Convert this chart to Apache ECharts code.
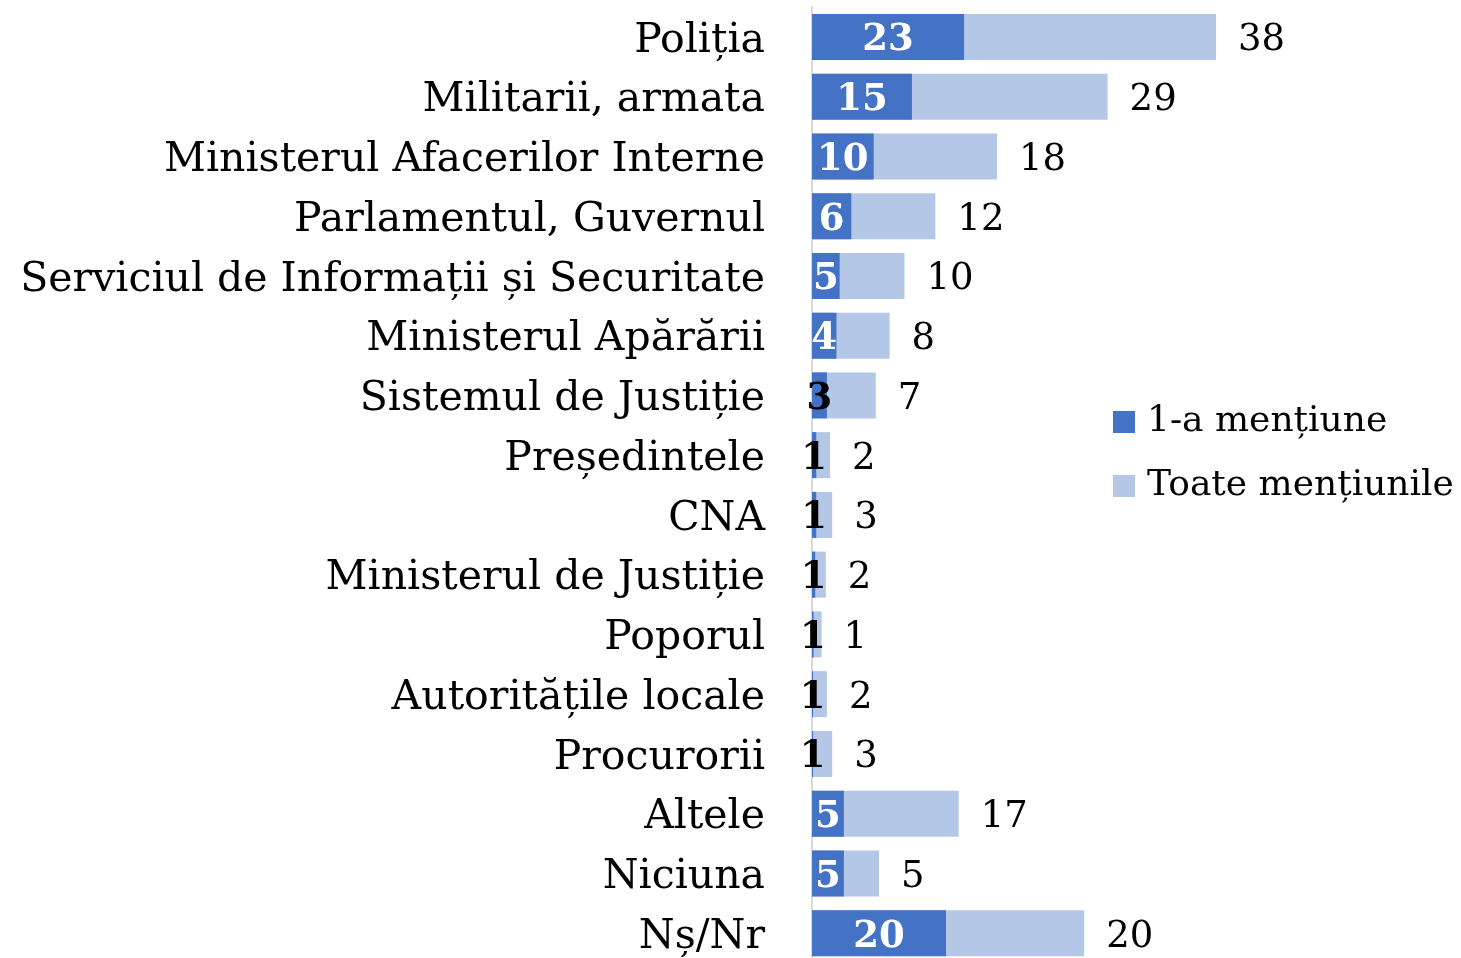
<!DOCTYPE html>
<html>
<head>
<meta charset="utf-8">
<script src="https://cdn.jsdelivr.net/npm/echarts@6/dist/echarts.min.js"></script>
<style>
  html, body { margin: 0; padding: 0; background: #fff; }
  #chart { width: 1461px; height: 958px; }
</style>
</head>
<body>
<div id="chart"></div>
<script>
const categories = [
  'Poliția', 'Militarii, armata', 'Ministerul Afacerilor Interne', 'Parlamentul, Guvernul',
  'Serviciul de Informații și Securitate', 'Ministerul Apărării', 'Sistemul de Justiție',
  'Președintele', 'CNA', 'Ministerul de Justiție', 'Poporul', 'Autoritățile locale',
  'Procurorii', 'Altele', 'Niciuna', 'Nș/Nr'
]
// values printed on the bars
const firstLabels = [23, 15, 10, 6, 5, 4, 3, 1, 1, 1, 1, 1, 1, 5, 5, 20]
const allLabels = [38, 29, 18, 12, 10, 8, 7, 2, 3, 2, 1, 2, 3, 17, 5, 20]
// bar lengths as drawn in the picture (same unit as Poliția = 38)
const firstBar = [14.3, 9.4, 5.8, 3.7, 2.6, 2.3, 1.4, 0.4, 0.4, 0.3, 0.15, 0.1, 0.1, 3.0, 3.0, 12.6]
const allBar = [38, 27.8, 17.4, 11.6, 8.7, 7.3, 6.0, 1.7, 1.9, 1.3, 0.9, 1.4, 1.9, 13.8, 6.3, 25.6]

const FONT = '"DejaVu Serif", serif'
const chart = echarts.init(document.getElementById('chart'))

chart.setOption({
  animation: false,
  legend: {
    orient: 'vertical',
    left: 1113,
    top: 402,
    padding: 0,
    data: ['1-a mențiune', 'Toate mențiunile'],
    icon: 'rect',
    itemWidth: 22,
    itemHeight: 22,
    itemGap: 24,
    textStyle: { fontFamily: FONT, fontSize: 36, color: '#000', lineHeight: 40, padding: [0, 0, 0, 7] }
  },
  grid: { left: 812, width: 638, top: 7, height: 956, outerBoundsMode: 'none' },
  xAxis: {
    type: 'value',
    min: 0,
    max: 60,
    show: false
  },
  yAxis: {
    type: 'category',
    inverse: true,
    data: categories,
    axisLine: { show: true, lineStyle: { color: '#d9d9d9', width: 2 } },
    axisTick: { show: false },
    axisLabel: {
      margin: 47,
      formatter: v => '{a|' + v + '}',
      rich: {
        a: { fontFamily: FONT, fontSize: 41, color: '#000', padding: [8, 0, 0, 0] }
      }
    }
  },
  series: [
    {
      name: 'Toate mențiunile',
      type: 'bar',
      data: allBar,
      barWidth: 46,
      barGap: '-100%',
      itemStyle: { color: '#b4c7e7' },
      label: {
        show: true,
        position: 'right',
        distance: 22,
        offset: [0, 4],
        fontFamily: FONT,
        fontSize: 37,
        color: '#000',
        formatter: p => allLabels[p.dataIndex]
      },
      z: 2
    },
    {
      name: '1-a mențiune',
      type: 'bar',
      data: firstBar.map((v, i) => ({
        value: v,
        label: { color: firstLabels[i] >= 4 ? '#fff' : '#000' }
      })),
      barWidth: 46,
      barGap: '-100%',
      itemStyle: { color: '#4472c4' },
      label: {
        show: true,
        position: 'inside',
        offset: [0, 4],
        fontFamily: FONT,
        fontSize: 37,
        fontWeight: 'bold',
        formatter: p => firstLabels[p.dataIndex]
      },
      z: 3
    }
  ]
})
</script>
</body>
</html>
